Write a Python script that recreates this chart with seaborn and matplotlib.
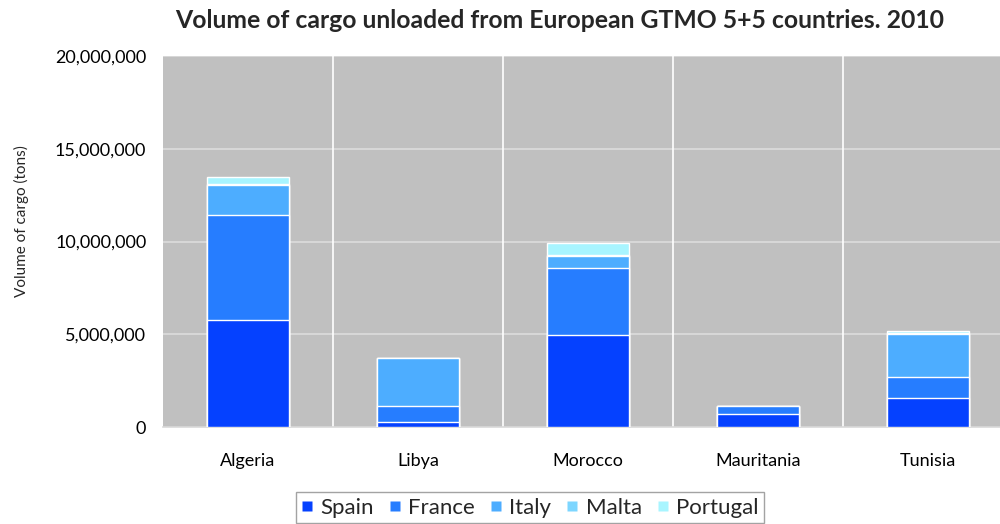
import matplotlib
matplotlib.use("Agg")
import matplotlib.pyplot as plt
import matplotlib.ticker as mticker
from matplotlib.lines import Line2D
import numpy as np
import pandas as pd
import seaborn as sns

# Cargo unloaded (tons) by destination country and European origin, 2010
countries = ["Algeria", "Libya", "Morocco", "Mauritania", "Tunisia"]
series = ["Spain", "France", "Italy", "Malta", "Portugal"]
spain = [5770000, 250000, 4960000, 720000, 1550000]
france = [5660000, 880000, 3640000, 410000, 1150000]
italy = [1620000, 2570000, 600000, 0, 2330000]
malta = [50000, 0, 50000, 0, 30000]
portugal = [360000, 0, 650000, 0, 110000]
colors = ["#0541FF", "#267DFF", "#4DADFF", "#7DD6FF", "#A8F5FF"]
yticks = [0, 5000000, 10000000, 15000000, 20000000]

sns.set_theme(style="white")
plt.rcParams["font.family"] = ["Lato", "DejaVu Sans"]

fig = plt.figure(figsize=(10, 5.24), dpi=100)
ax = fig.add_axes([0.163, 0.185, 0.85, 0.708])
ax.set_facecolor("#C0C0C0")

values = np.array([spain, france, italy, malta, portugal], dtype=float)
cum = np.cumsum(values, axis=0)

# Stacked bars: draw cumulative totals from the top segment down
for i in range(len(series) - 1, -1, -1):
    df = pd.DataFrame({"country": countries, "total": cum[i]})
    sns.barplot(data=df, x="country", y="total", color=colors[i],
                width=0.48, edgecolor="white", linewidth=1.0,
                saturation=1, ax=ax, zorder=3)

ax.set_ylim(0, 20000000)
ax.set_xlim(-0.5, len(countries) - 0.5)
ax.set_yticks(yticks)
ax.yaxis.set_major_formatter(mticker.FuncFormatter(lambda v, p: f"{int(v):,}"))

# Horizontal gridlines and white category separators
for y in yticks[1:]:
    ax.axhline(y, color="#DCDCDC", lw=1.2, zorder=1)
for k in range(1, len(countries)):
    ax.axvline(k - 0.5, color="white", lw=1.2, zorder=1)

for s in ["top", "right", "left"]:
    ax.spines[s].set_visible(False)
ax.spines["bottom"].set_color("#D9D9D9")
ax.spines["bottom"].set_linewidth(1.2)

ax.tick_params(axis="both", length=0, labelsize=13, colors="black")
ax.tick_params(axis="x", pad=19)
ax.tick_params(axis="y", pad=12)
ax.set_xlabel("")
ax.set_ylabel("Volume of cargo (tons)", fontsize=11)
ax.yaxis.set_label_coords(-0.158, 0.555)

fig.text(0.56, 0.96, "Volume of cargo unloaded from European GTMO 5+5 countries. 2010",
         ha="center", va="center", fontsize=17.8, fontweight="bold")

handles = [Line2D([], [], marker="s", linestyle="none", markersize=7,
                  markerfacecolor=c, markeredgecolor="none") for c in colors]
leg = fig.legend(handles, series, loc="upper center", bbox_to_anchor=(0.53, 1 - 492 / 524),
                 ncol=5, frameon=True, fancybox=False, fontsize=16,
                 handlelength=0.5, handletextpad=0.35,
                 columnspacing=0.7, borderpad=0.25, borderaxespad=0)
leg.get_frame().set_edgecolor("#8C8C8C")
leg.get_frame().set_linewidth(1.0)

fig.savefig("out.png", dpi=100)
